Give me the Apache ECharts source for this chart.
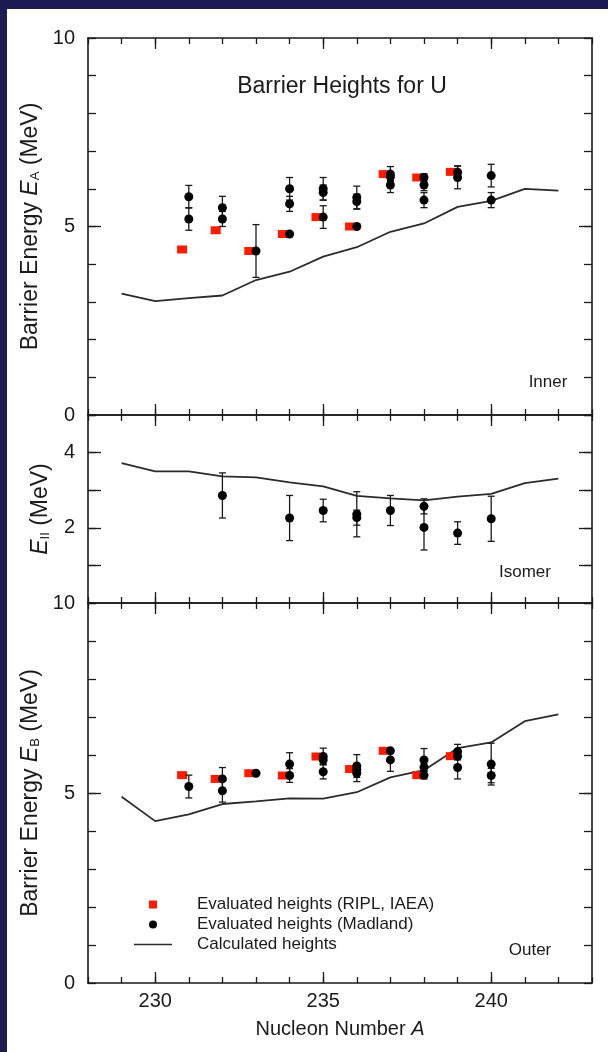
<!DOCTYPE html>
<html>
<head>
<meta charset="utf-8">
<script src="https://cdn.jsdelivr.net/npm/echarts@6/dist/echarts.min.js"></script>
<style>
  html, body { margin: 0; padding: 0; background: #fff; }
  #chart { width: 608px; height: 1052px; }
</style>
</head>
<body>
<div id="chart"></div>
<script>
// calculated barrier curves, one value per mass number
const calcA = [229, 230, 231, 232, 233, 234, 235, 236, 237, 238, 239, 240, 241, 242];
const innerCalc = [3.22, 3.02, 3.10, 3.17, 3.58, 3.80, 4.20, 4.45, 4.86, 5.08, 5.52, 5.68, 6.00, 5.95];
const isomerCalc = [3.72, 3.50, 3.50, 3.37, 3.34, 3.21, 3.10, 2.85, 2.78, 2.73, 2.83, 2.90, 3.19, 3.31];
const outerCalc = [4.90, 4.26, 4.44, 4.71, 4.78, 4.86, 4.85, 5.02, 5.41, 5.60, 6.18, 6.33, 6.89, 7.07];

// RIPL (IAEA) points, drawn just left of the integer mass
const riplA = [230.8, 231.8, 232.8, 233.8, 234.8, 235.8, 236.8, 237.8, 238.8];
const innerRipl = [4.39, 4.90, 4.35, 4.80, 5.25, 5.00, 6.39, 6.30, 6.45];
const outerRipl = [5.47, 5.37, 5.52, 5.46, 5.96, 5.63, 6.11, 5.47, 5.97];

// Madland points: [A, height, error]
const innerMadland = [
  [231, 5.79, 0.3], [231, 5.20, 0.3],
  [232, 5.50, 0.3], [232, 5.20, 0.2],
  [233, 4.35, 0.7],
  [234, 6.00, 0.3], [234, 5.60, 0.2], [234, 4.80, 0.05],
  [235, 6.00, 0.3], [235, 5.90, 0.2], [235, 5.25, 0.3],
  [236, 5.77, 0.3], [236, 5.66, 0.2], [236, 5.00, 0],
  [237, 6.39, 0.2], [237, 6.32, 0.1], [237, 6.10, 0.2],
  [238, 6.30, 0.1], [238, 6.10, 0.15], [238, 5.70, 0.2],
  [239, 6.44, 0.17], [239, 6.30, 0.3],
  [240, 6.35, 0.3], [240, 5.70, 0.2]
];
const isomerMadland = [
  [232, 2.86, 0.6],
  [234, 2.26, 0.6],
  [235, 2.46, 0.3],
  [236, 2.36, 0.6], [236, 2.27, 0.2],
  [237, 2.46, 0.4],
  [238, 2.57, 0.2], [238, 2.01, 0.6],
  [239, 1.86, 0.3],
  [240, 2.24, 0.6]
];
const outerMadland = [
  [231, 5.17, 0.3],
  [232, 5.37, 0.3], [232, 5.06, 0.3],
  [233, 5.52, 0],
  [234, 5.76, 0.3], [234, 5.46, 0.18],
  [235, 5.96, 0.22], [235, 5.87, 0.1], [235, 5.56, 0.19],
  [236, 5.71, 0.3], [236, 5.62, 0.1], [236, 5.52, 0.22],
  [237, 6.11, 0.05], [237, 5.87, 0.3],
  [238, 5.87, 0.3], [238, 5.68, 0.1], [238, 5.47, 0.1],
  [239, 6.09, 0.19], [239, 5.97, 0.1], [239, 5.67, 0.3],
  [240, 5.76, 0.55], [240, 5.46, 0.19]
];

const xLabelTicks = [230, 235, 240];

const RIPL = 'Evaluated heights (RIPL, IAEA)';
const MADLAND = 'Evaluated heights (Madland)';
const CALC = 'Calculated heights';

const ink = '#1a1a1a';
const font = 'Liberation Sans, Arial, sans-serif';

const pair = (xs, ys) => xs.map((x, i) => [x, ys[i]]);

function errorBar(params, api) {
  const x = api.value(0), y = api.value(1), e = api.value(2);
  const top = api.coord([x, y + e]);
  const bot = api.coord([x, y - e]);
  const st = { stroke: ink, lineWidth: 1.3 };
  return {
    type: 'group',
    children: [
      { type: 'line', shape: { x1: top[0], y1: top[1], x2: bot[0], y2: bot[1] }, style: st },
      { type: 'line', shape: { x1: top[0] - 3.5, y1: top[1], x2: top[0] + 3.5, y2: top[1] }, style: st },
      { type: 'line', shape: { x1: bot[0] - 3.5, y1: bot[1], x2: bot[0] + 3.5, y2: bot[1] }, style: st }
    ]
  };
}

const panels = [
  { top: 38, height: 377, max: 10, labels: [0, 5, 10], majors: [5],
    name: 'Barrier Energy {i|E}{sub|A} (MeV)', gap: 45,
    calc: innerCalc, ripl: innerRipl, mad: innerMadland },
  { top: 415, height: 188, max: 5, labels: [2, 4], majors: [1, 2, 3, 4],
    name: '{i|E}{sub|II} (MeV)', gap: 36,
    calc: isomerCalc, ripl: null, mad: isomerMadland },
  { top: 603, height: 380, max: 10, labels: [0, 5, 10], majors: [5],
    name: 'Barrier Energy {i|E}{sub|B} (MeV)', gap: 45,
    calc: outerCalc, ripl: outerRipl, mad: outerMadland }
];

const richFor = size => ({
  i: { fontStyle: 'italic', fontSize: size, fontFamily: font, color: ink },
  sub: { fontSize: 13, fontFamily: font, color: ink, verticalAlign: 'bottom', lineHeight: 12 }
});

const grids = [], xAxes = [], yAxes = [], series = [];
const axisLine = { show: true, onZero: false, lineStyle: { color: ink, width: 1.6 } };
const tickStyle = { color: ink, width: 1.3 };

panels.forEach((p, g) => {
  grids.push({ left: 88, top: p.top, width: 504, height: p.height });

  const xb = { gridIndex: g, type: 'value', min: 228, max: 243, interval: 1, splitLine: { show: false } };
  const last = g === panels.length - 1;
  xAxes.push(Object.assign({}, xb, {
    position: 'bottom', axisLine,
    axisTick: { inside: true, length: 6, lineStyle: tickStyle },
    axisLabel: last ? {
      show: true, margin: 8, fontSize: 20, fontFamily: font, color: ink,
      formatter: v => xLabelTicks.includes(v) ? String(v) : ''
    } : { show: false },
    name: last ? 'Nucleon Number {i|A}' : '',
    nameLocation: 'middle', nameGap: 36,
    nameTextStyle: { fontSize: 20, fontFamily: font, color: ink, rich: richFor(20) }
  }));
  xAxes.push(Object.assign({}, xb, {
    position: 'top', axisLine,
    axisTick: { inside: true, length: 6, lineStyle: tickStyle },
    axisLabel: { show: false }
  }));
  xAxes.push(Object.assign({}, xb, {
    position: 'bottom', axisLine: { show: false, onZero: false },
    axisTick: { inside: true, length: 11, customValues: xLabelTicks, lineStyle: tickStyle },
    axisLabel: { show: false }
  }));
  xAxes.push(Object.assign({}, xb, {
    position: 'top', axisLine: { show: false, onZero: false },
    axisTick: { inside: true, length: 11, customValues: xLabelTicks, lineStyle: tickStyle },
    axisLabel: { show: false }
  }));

  const yb = { gridIndex: g, type: 'value', min: 0, max: p.max, interval: 1, splitLine: { show: false } };
  yAxes.push(Object.assign({}, yb, {
    position: 'left', axisLine,
    axisTick: { inside: true, length: 8, lineStyle: tickStyle },
    axisLabel: {
      show: true, margin: 13, fontSize: 20, fontFamily: font, color: ink,
      formatter: v => p.labels.includes(v) ? String(v) : ''
    },
    name: p.name, nameLocation: 'middle', nameRotate: 90, nameGap: p.gap,
    nameTextStyle: { fontSize: 23, fontFamily: font, color: ink, rich: richFor(23) }
  }));
  yAxes.push(Object.assign({}, yb, {
    position: 'right', axisLine,
    axisTick: { inside: true, length: 8, lineStyle: tickStyle },
    axisLabel: { show: false }
  }));
  yAxes.push(Object.assign({}, yb, {
    position: 'left', axisLine: { show: false, onZero: false },
    axisTick: { inside: true, length: 13, customValues: p.majors, lineStyle: tickStyle },
    axisLabel: { show: false }
  }));
  yAxes.push(Object.assign({}, yb, {
    position: 'right', axisLine: { show: false, onZero: false },
    axisTick: { inside: true, length: 13, customValues: p.majors, lineStyle: tickStyle },
    axisLabel: { show: false }
  }));

  const idx = { xAxisIndex: g * 4, yAxisIndex: g * 4 };
  series.push(Object.assign({
    name: CALC, type: 'line', symbol: 'none',
    lineStyle: { color: '#2b2b2b', width: 1.8 }, itemStyle: { color: '#2b2b2b' },
    data: pair(calcA, p.calc), z: 2
  }, idx));
  if (p.ripl) {
    series.push(Object.assign({
      name: RIPL, type: 'scatter', symbol: 'rect', symbolSize: [10, 8],
      itemStyle: { color: '#ff1a00', opacity: 1 },
      data: pair(riplA, p.ripl), z: 3
    }, idx));
  }
  series.push(Object.assign({
    name: MADLAND + ' err', type: 'custom', renderItem: errorBar,
    encode: { x: 0, y: 1 },
    data: p.mad.filter(d => d[2] > 0), z: 4, silent: true
  }, idx));
  series.push(Object.assign({
    name: MADLAND, type: 'scatter', symbol: 'circle', symbolSize: 9,
    itemStyle: { color: '#000', opacity: 1 },
    data: p.mad.map(d => [d[0], d[1]]), z: 5
  }, idx));
});

const chart = echarts.init(document.getElementById('chart'));
chart.setOption({
  animation: false,
  backgroundColor: '#fff',
  grid: grids,
  xAxis: xAxes,
  yAxis: yAxes,
  series: series,
  legend: {
    orient: 'vertical', left: 129, top: 891,
    itemWidth: 38, itemHeight: 8, itemGap: 3,
    symbolKeepAspect: true,
    data: [
      { name: RIPL, icon: 'path://M0,0H10V10H0Z' },
      { name: MADLAND, icon: 'circle' },
      { name: CALC, icon: 'path://M0,0H38V1.6H0Z' }
    ],
    formatter: name => '{sp| }' + name,
    textStyle: { fontSize: 17, fontFamily: font, color: ink, rich: { sp: { width: 20 } } }
  },
  graphic: [
    { type: 'rect', shape: { x: 0, y: 0, width: 608, height: 9 }, style: { fill: '#1b1a51' }, silent: true },
    { type: 'rect', shape: { x: 0, y: 0, width: 7, height: 1052 }, style: { fill: '#1b1a51' }, silent: true },
    { type: 'text', x: 342, y: 87, style: { text: 'Barrier Heights for U', font: '23px ' + font, fill: ink, textAlign: 'center', textVerticalAlign: 'middle' } },
    { type: 'text', x: 548, y: 382, style: { text: 'Inner', font: '17px ' + font, fill: ink, textAlign: 'center', textVerticalAlign: 'middle' } },
    { type: 'text', x: 525, y: 572, style: { text: 'Isomer', font: '17px ' + font, fill: ink, textAlign: 'center', textVerticalAlign: 'middle' } },
    { type: 'text', x: 530, y: 950, style: { text: 'Outer', font: '17px ' + font, fill: ink, textAlign: 'center', textVerticalAlign: 'middle' } }
  ]
});
</script>
</body>
</html>
